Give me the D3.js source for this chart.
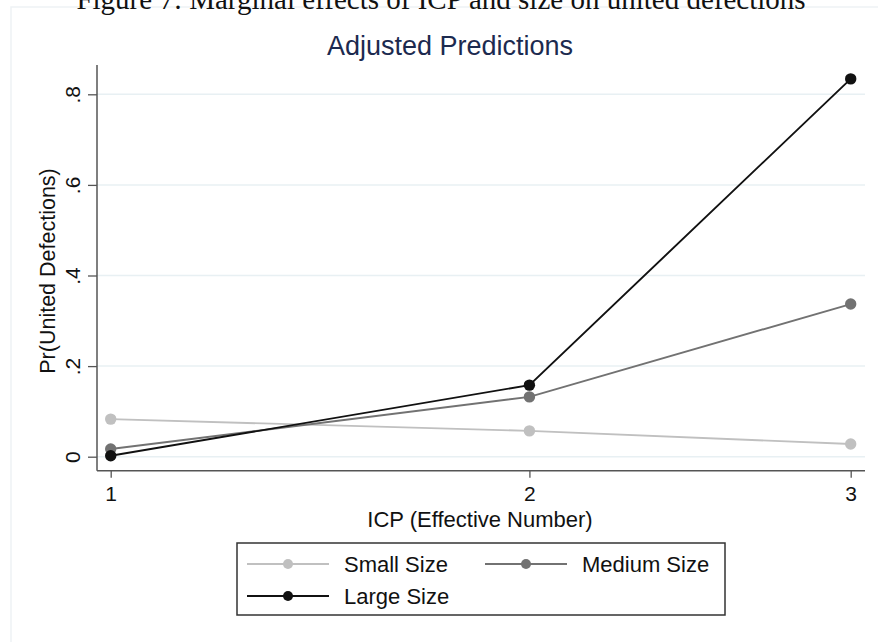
<!DOCTYPE html>
<html>
<head>
<meta charset="utf-8">
<script src="https://cdn.jsdelivr.net/npm/d3@7/dist/d3.min.js"></script>
<style>
  html, body { margin: 0; padding: 0; background: #ffffff; }
  svg { display: block; }
</style>
</head>
<body>
<svg id="chart" width="878" height="642"></svg>
<script>
// ---- data ----
const caption = "Figure 7: Marginal effects of ICP and size on united defections";
const title = "Adjusted Predictions";
const xTitle = "ICP (Effective Number)";
const yTitle = "Pr(United Defections)";
const icpLevels = [1, 2, 3];
const yTickValues = [0, 0.2, 0.4, 0.6, 0.8];
const seriesNames = ["Small Size", "Medium Size", "Large Size"];
const smallSize = [0.083, 0.057, 0.028];
const mediumSize = [0.017, 0.132, 0.337];
const largeSize = [0.002, 0.158, 0.834];
const seriesColors = ["#c0c0c0", "#727272", "#111111"];

const series = [
  { name: seriesNames[0], values: smallSize, color: seriesColors[0] },
  { name: seriesNames[1], values: mediumSize, color: seriesColors[1] },
  { name: seriesNames[2], values: largeSize, color: seriesColors[2] }
];

// ---- layout ----
const svg = d3.select("#chart");
const plotLeft = 97, plotRight = 865, plotTop = 65, plotBottom = 470.7;
const font = "'Liberation Sans', Arial, Helvetica, sans-serif";

const x = d3.scaleSqrt().domain([1, 3]).range([110.7, 850.7]);
const y = d3.scaleLinear().domain([0, 0.8]).range([456.7, 94.3]);

// outer graph region frame
svg.append("rect")
  .attr("x", 11).attr("y", 7).attr("width", 900).attr("height", 700)
  .attr("fill", "none").attr("stroke", "#eef2f5").attr("stroke-width", 1.5);

// caption at top (partly cropped, as in the source page)
svg.append("text")
  .attr("x", 441).attr("y", 9)
  .attr("text-anchor", "middle")
  .attr("font-family", "'Liberation Serif', 'Times New Roman', serif")
  .attr("font-size", 29)
  .attr("fill", "#111")
  .text(caption);

// title
svg.append("text")
  .attr("x", 450).attr("y", 55)
  .attr("text-anchor", "middle")
  .attr("font-family", font)
  .attr("font-size", 27)
  .attr("fill", "#1c2a4f")
  .text(title);

// gridlines
svg.append("g").selectAll("line")
  .data(yTickValues).join("line")
  .attr("x1", plotLeft).attr("x2", plotRight)
  .attr("y1", d => y(d)).attr("y2", d => y(d))
  .attr("stroke", "#e8f0f3").attr("stroke-width", 1.5);

// y axis
const yAxis = d3.axisLeft(y)
  .tickValues(yTickValues)
  .tickSize(9)
  .tickSizeOuter(0)
  .tickFormat(d => d === 0 ? "0" : d3.format(".1f")(d).replace(/^0/, ""));
const gy = svg.append("g").attr("transform", `translate(${plotLeft},0)`).call(yAxis);
gy.select(".domain").remove();
gy.selectAll(".tick line").attr("stroke", "#555").attr("stroke-width", 1.3);
gy.selectAll(".tick text")
  .attr("transform", "rotate(-90)")
  .attr("x", 0).attr("y", -17).attr("dy", 0)
  .attr("text-anchor", "middle")
  .attr("font-family", font).attr("font-size", 21).attr("fill", "#111");
svg.append("line")
  .attr("x1", plotLeft).attr("x2", plotLeft)
  .attr("y1", plotTop).attr("y2", plotBottom)
  .attr("stroke", "#555").attr("stroke-width", 1.5);

// x axis
const xAxis = d3.axisBottom(x)
  .tickValues(icpLevels)
  .tickSize(7)
  .tickSizeOuter(0)
  .tickFormat(d3.format("d"));
const gx = svg.append("g").attr("transform", `translate(0,${plotBottom})`).call(xAxis);
gx.select(".domain").remove();
gx.selectAll(".tick line").attr("stroke", "#555").attr("stroke-width", 1.3);
gx.selectAll(".tick text")
  .attr("y", 30).attr("dy", 0)
  .attr("font-family", font).attr("font-size", 21).attr("fill", "#111");
svg.append("line")
  .attr("x1", plotLeft).attr("x2", plotRight)
  .attr("y1", plotBottom).attr("y2", plotBottom)
  .attr("stroke", "#555").attr("stroke-width", 1.5);

// axis titles
svg.append("text")
  .attr("x", 480).attr("y", 527)
  .attr("text-anchor", "middle")
  .attr("font-family", font).attr("font-size", 22).attr("fill", "#111")
  .text(xTitle);
svg.append("text")
  .attr("transform", "translate(55,271) rotate(-90)")
  .attr("text-anchor", "middle")
  .attr("font-family", font).attr("font-size", 21.5).attr("fill", "#111")
  .text(yTitle);

// series lines + markers
const line = d3.line().x((d, i) => x(icpLevels[i])).y(d => y(d));
const gs = svg.append("g");
series.forEach(s => {
  gs.append("path")
    .attr("d", line(s.values))
    .attr("fill", "none").attr("stroke", s.color).attr("stroke-width", 1.9);
});
series.forEach(s => {
  gs.selectAll(null).data(s.values).join("circle")
    .attr("cx", (d, i) => x(icpLevels[i]))
    .attr("cy", d => y(d))
    .attr("r", 5.7)
    .attr("fill", s.color);
});

// legend
const lg = svg.append("g");
lg.append("rect")
  .attr("x", 237).attr("y", 543).attr("width", 488).attr("height", 72)
  .attr("fill", "#fff").attr("stroke", "#333").attr("stroke-width", 1.5);
const legendPos = [
  { lx: 247, ty: 564 },
  { lx: 485, ty: 564 },
  { lx: 247, ty: 596 }
];
series.forEach((s, i) => {
  const p = legendPos[i];
  lg.append("line")
    .attr("x1", p.lx).attr("x2", p.lx + 82)
    .attr("y1", p.ty).attr("y2", p.ty)
    .attr("stroke", s.color).attr("stroke-width", 1.8);
  lg.append("circle")
    .attr("cx", p.lx + 41).attr("cy", p.ty).attr("r", 5)
    .attr("fill", s.color);
  lg.append("text")
    .attr("x", p.lx + 97).attr("y", p.ty + 8)
    .attr("font-family", font).attr("font-size", 22).attr("fill", "#111")
    .text(s.name);
});
</script>
</body>
</html>
